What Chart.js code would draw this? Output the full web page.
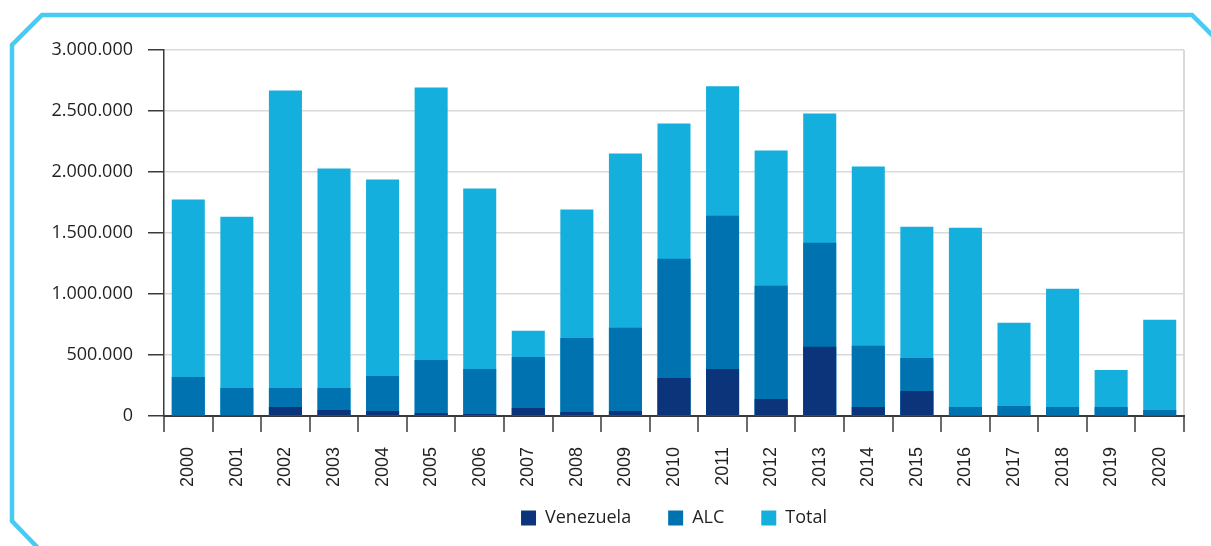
<!DOCTYPE html>
<html>
<head>
<meta charset="utf-8">
<script src="https://cdn.jsdelivr.net/npm/chart.js@4/dist/chart.umd.min.js"></script>
<style>
  html, body { margin: 0; padding: 0; background: #fff; }
  #wrap { position: relative; width: 1211px; height: 546px; }
  #frame { position: absolute; left: 0; top: 0; }
  #chart { position: absolute; left: 0; top: 0; }
</style>
</head>
<body>
<div id="wrap">
  <svg id="frame" width="1211" height="546">
    <polyline points="38,548 12,521 12,45 42,15 1192,15 1214,37" fill="none" stroke="#48cbf3" stroke-width="4.5" />
  </svg>
  <canvas id="chart" width="1211" height="546"></canvas>
</div>
<script>
// Años y valores
const years = ['2000', '2001', '2002', '2003', '2004', '2005', '2006', '2007', '2008', '2009', '2010',
               '2011', '2012', '2013', '2014', '2015', '2016', '2017', '2018', '2019', '2020'];

const venezuela = [0, 8000, 74000, 49000, 41000, 25000, 16000, 66000, 33000, 41000, 312000,
                   386000, 140000, 567000, 74000, 205000, 0, 0, 0, 0, 0];

const alc = [320000, 230000, 230000, 230000, 328000, 460000, 386000, 484000, 640000, 723000, 1289000,
             1642000, 1067000, 1420000, 575000, 476000, 74000, 82000, 74000, 74000, 49000];

const total = [1774000, 1634000, 2669000, 2028000, 1938000, 2693000, 1864000, 698000, 1692000, 2151000, 2398000,
               2702000, 2176000, 2480000, 2045000, 1552000, 1544000, 764000, 1043000, 378000, 788000];

const yMin = 0;
const yMax = 3000000;
const yStep = 500000;

const textColor = '#231f20';
const gridColor = '#d9d9d9';
const axisColor = '#3a3a3a';

function formatNumber(v) {
    return String(v).replace(/\B(?=(\d{3})+(?!\d))/g, '.');
}

// la leyenda se sube un poco para quedar encima de las etiquetas giradas
const legendShift = {
    id: 'legendShift',
    afterLayout(chart) {
        const lg = chart.legend;
        if (!lg) return;
        lg.top -= 16;
        lg.bottom -= 16;
    }
};

const ctx = document.getElementById('chart').getContext('2d');

new Chart(ctx, {
    type: 'bar',
    data: {
        labels: years,
        datasets: [
            { label: 'Venezuela', data: venezuela, backgroundColor: '#0b347a', order: 0 },
            { label: 'ALC', data: alc, backgroundColor: '#0072b0', order: 1 },
            { label: 'Total', data: total, backgroundColor: '#14afdd', order: 2 }
        ]
    },
    plugins: [legendShift],
    options: {
        responsive: false,
        animation: false,
        categoryPercentage: 0.68,
        barPercentage: 1.0,
        layout: { padding: { top: 50, right: 27, bottom: -7, left: 0 } },
        plugins: {
            tooltip: { enabled: false },
            legend: {
                position: 'bottom',
                fullSize: false,
                labels: {
                    boxWidth: 15,
                    boxHeight: 15,
                    padding: 37,
                    color: textColor,
                    font: { family: 'Open Sans', size: 18 }
                }
            }
        },
        scales: {
            x: {
                stacked: true,
                afterFit: (scale) => { scale.height = 72; },
                grid: {
                    offset: true,
                    drawOnChartArea: true,
                    color: (c) => c.type === 'scale' ? gridColor : 'rgba(0,0,0,0)',
                    lineWidth: 2,
                    tickColor: axisColor,
                    tickWidth: 1.5,
                    tickLength: 16
                },
                border: { display: true, color: axisColor, width: 2 },
                ticks: {
                    autoSkip: false,
                    minRotation: 90,
                    maxRotation: 90,
                    padding: 15,
                    color: textColor,
                    font: { family: 'Liberation Sans', size: 18 }
                }
            },
            y: {
                stacked: false,
                min: yMin,
                max: yMax,
                afterFit: (scale) => { scale.width = 164; },
                grid: {
                    color: (c) => (c.tick && c.tick.value === 0) ? axisColor : gridColor,
                    lineWidth: 1.5,
                    tickColor: axisColor,
                    tickWidth: 1.5,
                    tickLength: 16
                },
                border: { display: true, color: axisColor, width: 1.5 },
                ticks: {
                    stepSize: yStep,
                    padding: 15,
                    color: textColor,
                    font: { family: 'Open Sans', size: 18 },
                    callback: (v) => formatNumber(v)
                }
            }
        }
    }
});
</script>
</body>
</html>
